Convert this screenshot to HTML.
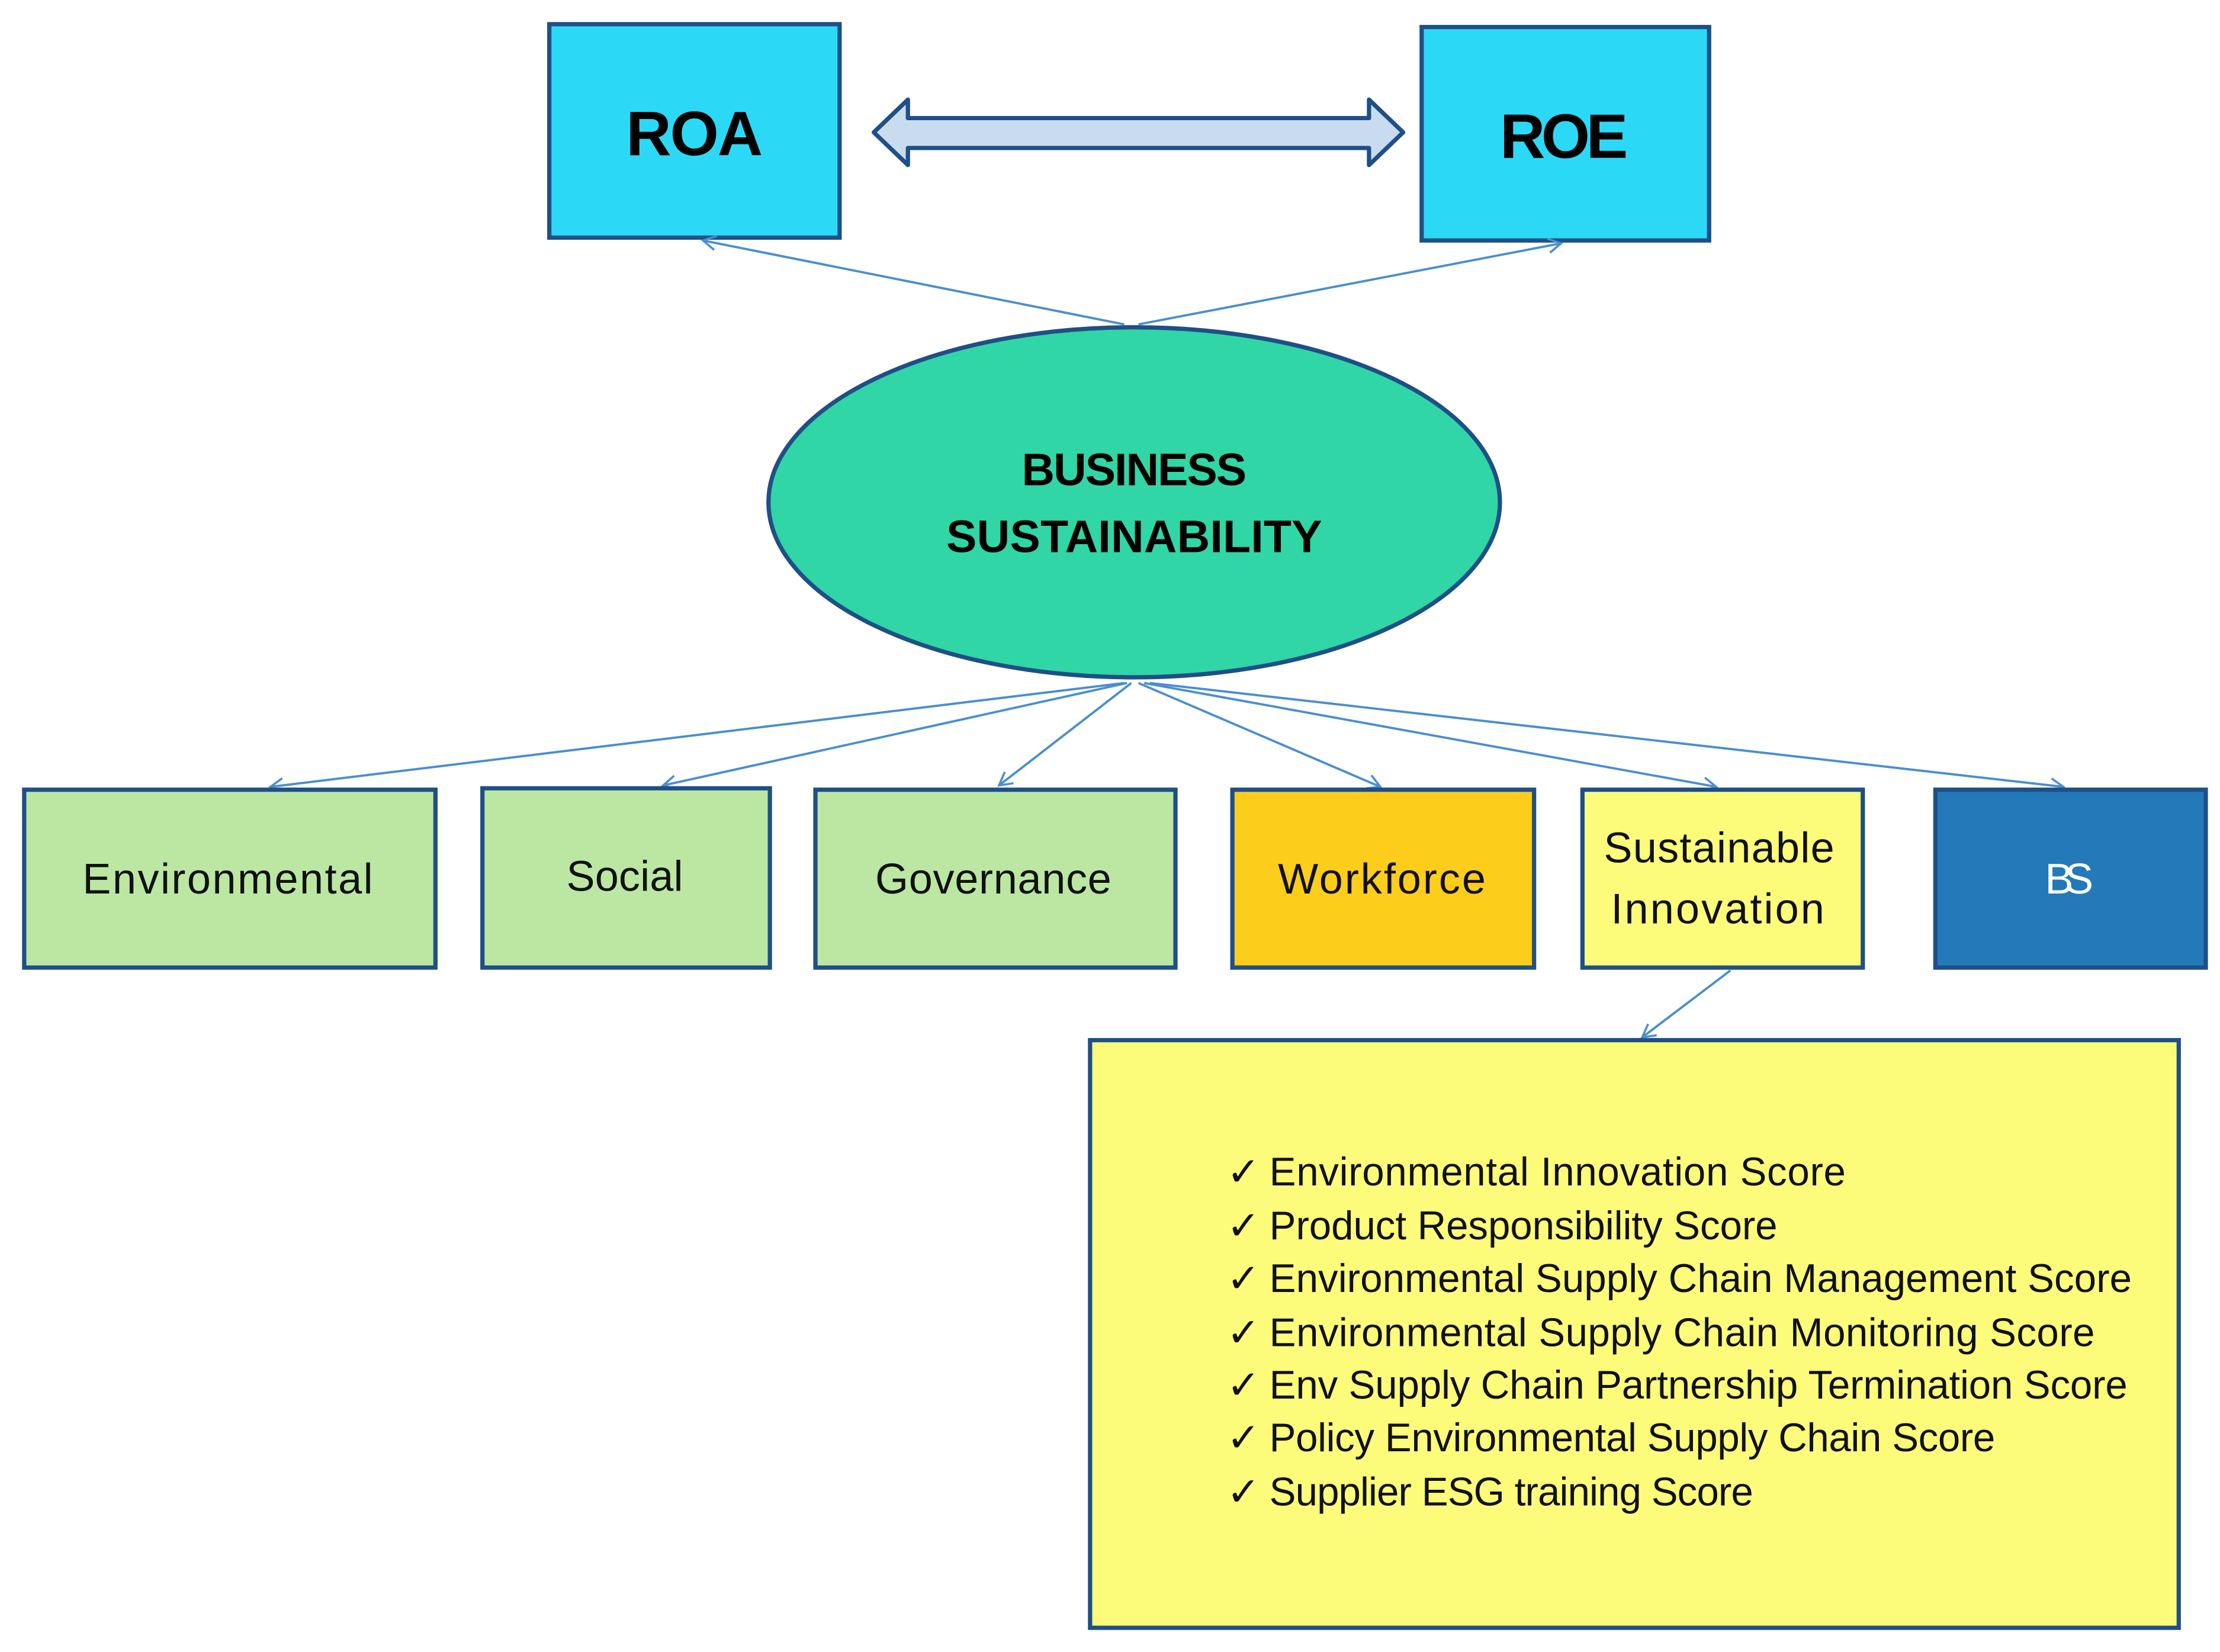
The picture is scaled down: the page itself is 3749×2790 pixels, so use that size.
<!DOCTYPE html>
<html><head><meta charset="utf-8"><style>html,body{margin:0;padding:0;background:#fff}svg{display:block}</style></head>
<body>
<svg width="3749" height="2790" viewBox="0 0 1560 1161" preserveAspectRatio="none" xmlns="http://www.w3.org/2000/svg" font-family="Liberation Sans, sans-serif">
<defs>
<marker id="a" markerWidth="12" markerHeight="12" refX="10" refY="6" orient="auto" markerUnits="userSpaceOnUse"><path d="M1,1 L10,6 L1,11" fill="none" stroke="#4a8ed0" stroke-width="1.5"/></marker>
</defs>
<rect width="1560" height="1161" fill="#fff"/>
<rect x="386" y="17" width="204" height="150" fill="#2bd9f7" stroke="#1f4f86" stroke-width="3"/>
<rect x="999" y="19" width="202" height="150" fill="#2bd9f7" stroke="#1f4f86" stroke-width="3"/>
<text x="488" y="109" font-size="44" font-weight="bold" text-anchor="middle" textLength="96">ROA</text>
<text x="1099" y="111" font-size="44" font-weight="bold" text-anchor="middle" textLength="90">ROE</text>
<path d="M614,93 L638,70 L638,83 L962,83 L962,70 L986,93 L962,116 L962,104 L638,104 L638,116 Z" fill="#c9dcef" stroke="#1f4f86" stroke-width="3" stroke-linejoin="round"/>
<g stroke="#4a8ed0" stroke-width="1.6" fill="none">
<line x1="790" y1="228" x2="494" y2="169" marker-end="url(#a)"/>
<line x1="800" y1="228" x2="1097" y2="171" marker-end="url(#a)"/>
</g>
<ellipse cx="797" cy="353" rx="257" ry="123" fill="#30d6a6" stroke="#1f4f86" stroke-width="3"/>
<text x="797" y="341" font-size="32" font-weight="bold" text-anchor="middle" textLength="158">BUSINESS</text>
<text x="797" y="388" font-size="32" font-weight="bold" text-anchor="middle" textLength="264">SUSTAINABILITY</text>
<g stroke="#4a8ed0" stroke-width="1.6" fill="none">
<line x1="790" y1="480" x2="190" y2="553" marker-end="url(#a)"/>
<line x1="792" y1="480" x2="466" y2="552" marker-end="url(#a)"/>
<line x1="795" y1="480" x2="702" y2="552" marker-end="url(#a)"/>
<line x1="800" y1="480" x2="970" y2="553" marker-end="url(#a)"/>
<line x1="804" y1="480" x2="1206" y2="553" marker-end="url(#a)"/>
<line x1="808" y1="480" x2="1450" y2="553" marker-end="url(#a)"/>
<line x1="1216" y1="682" x2="1154" y2="729" marker-end="url(#a)"/>
</g>
<g stroke="#1f4f86" stroke-width="3">
<rect x="17" y="555" width="289" height="125" fill="#bbe7a3"/>
<rect x="339" y="554" width="202" height="126" fill="#bbe7a3"/>
<rect x="573" y="555" width="253" height="125" fill="#bbe7a3"/>
<rect x="866" y="555" width="212" height="125" fill="#fdcd1b"/>
<rect x="1112" y="555" width="197" height="125" fill="#fdfc7a"/>
<rect x="1360" y="555" width="190" height="125" fill="#2479b9"/>
<rect x="766" y="731" width="765" height="413" fill="#fdfc7a"/>
</g>
<g font-size="30" text-anchor="middle" fill="#111">
<text x="160" y="628" textLength="204">Environmental</text>
<text x="439" y="626" textLength="82">Social</text>
<text x="698" y="628" textLength="166">Governance</text>
<text x="971" y="628" textLength="146">Workforce</text>
<text x="1208" y="606" textLength="162">Sustainable</text>
<text x="1207" y="649" textLength="150">Innovation</text>
<text x="1454" y="628" fill="#fff" textLength="34">BS</text>
</g>
<g font-size="28" fill="#111">
<text x="862" y="833">✓</text><text x="892" y="833" textLength="405">Environmental Innovation Score</text>
<text x="862" y="871">✓</text><text x="892" y="871" textLength="357">Product Responsibility Score</text>
<text x="862" y="908">✓</text><text x="892" y="908" textLength="606">Environmental Supply Chain Management Score</text>
<text x="862" y="946">✓</text><text x="892" y="946" textLength="580">Environmental Supply Chain Monitoring Score</text>
<text x="862" y="983">✓</text><text x="892" y="983" textLength="603">Env Supply Chain  Partnership Termination Score</text>
<text x="862" y="1020">✓</text><text x="892" y="1020" textLength="510">Policy Environmental Supply Chain Score</text>
<text x="862" y="1058">✓</text><text x="892" y="1058" textLength="340">Supplier ESG training Score</text>
</g>
</svg>
</body></html>
